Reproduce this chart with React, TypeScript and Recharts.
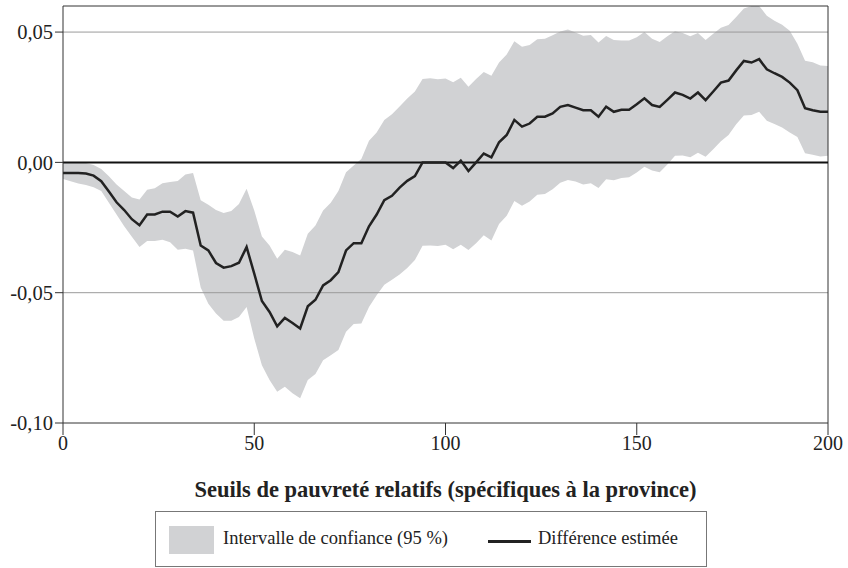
import React from "react"
import { Area, ComposedChart, Line, ReferenceLine, XAxis, YAxis } from "recharts"

// Relative poverty thresholds (x axis)
const thresholds = [
  0, 2, 4, 6, 8, 10, 12, 14, 16, 18, 20, 22, 24, 26, 28, 30, 32, 34, 36, 38,
  40, 42, 44, 46, 48, 50, 52, 54, 56, 58, 60, 62, 64, 66, 68, 70, 72, 74, 76, 78,
  80, 82, 84, 86, 88, 90, 92, 94, 96, 98, 100, 102, 104, 106, 108, 110, 112, 114, 116, 118,
  120, 122, 124, 126, 128, 130, 132, 134, 136, 138, 140, 142, 144, 146, 148, 150, 152, 154, 156, 158,
  160, 162, 164, 166, 168, 170, 172, 174, 176, 178, 180, 182, 184, 186, 188, 190, 192, 194, 196, 198,
  200,
]

// Estimated difference
const estimate = [
  -0.0041, -0.0041, -0.0041, -0.0043, -0.0051, -0.0072, -0.0112, -0.0153, -0.0183, -0.0218,
  -0.0241, -0.02, -0.02, -0.0189, -0.0189, -0.0208, -0.0187, -0.0193, -0.0319, -0.0338,
  -0.0386, -0.0404, -0.0398, -0.0385, -0.0325, -0.0427, -0.0532, -0.0574, -0.0629, -0.0597,
  -0.0616, -0.0637, -0.0552, -0.0527, -0.0472, -0.0452, -0.0421, -0.0338, -0.031, -0.031,
  -0.0245, -0.02, -0.0145, -0.0128, -0.0097, -0.0071, -0.0053, 0, 0, 0,
  0, -0.0022, 0.0007, -0.0033, 0, 0.0034, 0.0019, 0.0077, 0.0105, 0.0163,
  0.0137, 0.0149, 0.0175, 0.0175, 0.0188, 0.0213, 0.022, 0.021, 0.02, 0.02,
  0.0175, 0.0214, 0.0194, 0.0202, 0.0202, 0.0223, 0.0246, 0.022, 0.0213, 0.024,
  0.0268, 0.0259, 0.0245, 0.0268, 0.0239, 0.0272, 0.0306, 0.0314, 0.0353, 0.0389,
  0.0383, 0.0396, 0.0357, 0.0342, 0.0328, 0.0306, 0.0277, 0.0208, 0.02, 0.0194,
  0.0194,
]

// 95% confidence interval, upper bound
const upper = [
  0, 0, 0, -0.0002, -0.001, -0.0025, -0.0053, -0.0085, -0.011, -0.0135,
  -0.0142, -0.0105, -0.0099, -0.008, -0.0075, -0.0071, -0.0047, -0.0041, -0.0145, -0.0163,
  -0.0183, -0.0194, -0.0187, -0.016, -0.0101, -0.0185, -0.0284, -0.0319, -0.037, -0.0335,
  -0.0344, -0.0357, -0.0274, -0.0242, -0.0185, -0.0155, -0.011, -0.0038, -0.0012, 0.0013,
  0.0083, 0.0115, 0.0163, 0.0185, 0.0214, 0.0245, 0.0272, 0.032, 0.0323, 0.0319,
  0.0322, 0.0307, 0.0325, 0.029, 0.032, 0.0347, 0.0332, 0.0383, 0.0414, 0.0465,
  0.0444, 0.045, 0.0472, 0.0474, 0.0488, 0.0502, 0.051, 0.0498, 0.0486, 0.0489,
  0.046, 0.0485, 0.047, 0.0468, 0.0468, 0.048, 0.05, 0.0474, 0.0462, 0.0484,
  0.0503, 0.0496, 0.0484, 0.0496, 0.047, 0.0494, 0.0517, 0.0527, 0.0558, 0.059,
  0.06, 0.06, 0.0563, 0.0543, 0.0528, 0.0505, 0.0455, 0.039, 0.0384, 0.0372,
  0.037,
]

// 95% confidence interval, lower bound
const lower = [
  -0.0064, -0.0072, -0.0081, -0.0087, -0.0095, -0.011, -0.0155, -0.02, -0.0245, -0.0285,
  -0.0325, -0.0302, -0.0302, -0.0297, -0.0306, -0.0335, -0.0331, -0.0338, -0.048, -0.0542,
  -0.058, -0.0608, -0.0608, -0.0593, -0.0555, -0.0676, -0.0778, -0.0835, -0.088, -0.0861,
  -0.0886, -0.0905, -0.0835, -0.0812, -0.0759, -0.074, -0.072, -0.065, -0.062, -0.0618,
  -0.0555, -0.051, -0.047, -0.045, -0.043, -0.0405, -0.0375, -0.032, -0.0319, -0.0321,
  -0.0316, -0.0333, -0.0316, -0.0336, -0.031, -0.028, -0.03, -0.0236, -0.0205, -0.0148,
  -0.0166, -0.015, -0.0124, -0.0121, -0.0103, -0.0078, -0.0068, -0.0073, -0.0085, -0.008,
  -0.0098, -0.0065, -0.0069, -0.006, -0.0057, -0.0039, -0.0017, -0.0031, -0.0038, -0.0008,
  0.0025, 0.0026, 0.002, 0.0037, 0.0022, 0.005, 0.0081, 0.0105, 0.0146, 0.018,
  0.0182, 0.0194, 0.016, 0.0147, 0.0134, 0.0115, 0.0097, 0.0035, 0.0029, 0.0023,
  0.0025,
]

const xTicks = [0, 50, 100, 150, 200]
const yTicks = [-0.1, -0.05, 0, 0.05]

const xTitle = "Seuils de pauvreté relatifs (spécifiques à la province)"
const bandLabel = "Intervalle de confiance (95 %)"
const lineLabel = "Différence estimée"

const data = thresholds.map((x, i) => ({
  x,
  est: estimate[i],
  band: [lower[i], upper[i]],
}))

const font = "'Liberation Serif', 'Times New Roman', serif"
const ink = "#222"

const fmtY = (v: number) => v.toFixed(2).replace(".", ",")

export default function App() {
  return (
    <div style={{ position: "absolute", left: 0, top: 0, width: 848, height: 568, background: "#fff", fontFamily: font, color: ink }}>
      <ComposedChart width={848} height={470} data={data} margin={{ top: 6, right: 20, left: 0, bottom: 0 }}>
        <XAxis
          dataKey="x"
          type="number"
          domain={[0, 200]}
          ticks={xTicks}
          height={47}
          tickSize={12}
          tickMargin={1}
          stroke="#333"
          tick={{ fill: ink, fontSize: 20, fontFamily: font }}
        />
        <YAxis
          type="number"
          domain={[-0.1, 0.06]}
          ticks={yTicks}
          width={63}
          tickSize={8}
          tickMargin={2}
          stroke="#333"
          tickFormatter={fmtY}
          tick={{ fill: ink, fontSize: 20.5, fontFamily: font }}
        />
        <Area
          type="linear"
          dataKey="band"
          stroke="none"
          fill="#d1d2d4"
          fillOpacity={1}
          isAnimationActive={false}
        />
        <ReferenceLine y={0.05} stroke="#9a9a9a" strokeWidth={1} />
        <ReferenceLine y={-0.05} stroke="#9a9a9a" strokeWidth={1} />
        <ReferenceLine y={0.06} stroke="#333" strokeWidth={1} />
        <ReferenceLine x={200} stroke="#333" strokeWidth={1} />
        <ReferenceLine y={0} stroke="#111" strokeWidth={2} />
        <Line
          type="linear"
          dataKey="est"
          stroke={ink}
          strokeWidth={2.5}
          dot={false}
          isAnimationActive={false}
        />
      </ComposedChart>

      <div style={{ position: "absolute", left: 63, top: 477, width: 765, textAlign: "center", fontWeight: "bold", fontSize: 22.5 }}>
        {xTitle}
      </div>

      <div style={{ position: "absolute", left: 155, top: 511, width: 552, height: 56, border: "1px solid #777", boxSizing: "border-box", fontSize: 18.5 }}>
        <div style={{ position: "absolute", left: 13, top: 14, width: 45, height: 28, background: "#d1d2d4" }} />
        <div style={{ position: "absolute", left: 67, top: 16 }}>{bandLabel}</div>
        <div style={{ position: "absolute", left: 332, top: 28, width: 43, height: 2.5, background: ink }} />
        <div style={{ position: "absolute", left: 382, top: 16 }}>{lineLabel}</div>
      </div>
    </div>
  )
}
